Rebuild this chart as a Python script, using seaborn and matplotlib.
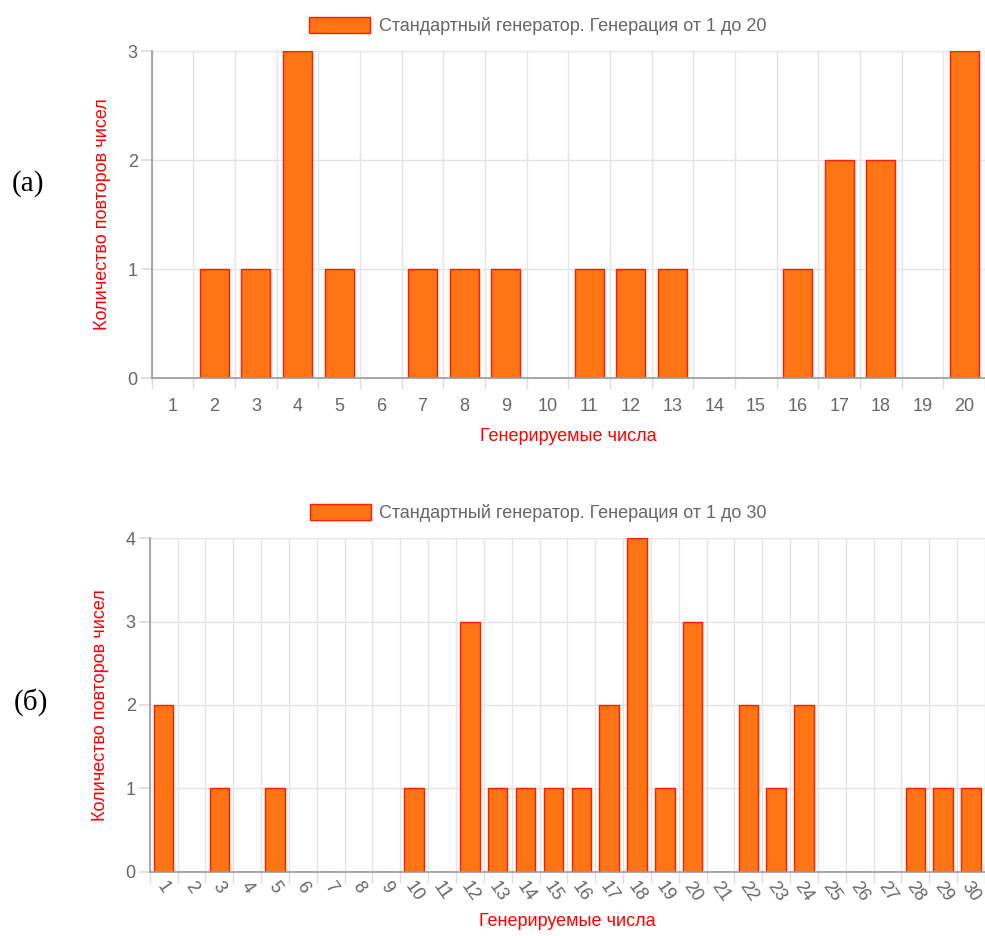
import matplotlib
matplotlib.use('Agg')
import matplotlib.pyplot as plt
import seaborn as sns
import pandas as pd

# Данные: частоты повторов сгенерированных чисел
numbers_20 = list(range(1, 21))
counts_20 = [0, 1, 1, 3, 1, 0, 1, 1, 1, 0, 1, 1, 1, 0, 0, 1, 2, 2, 0, 3]

numbers_30 = list(range(1, 31))
counts_30 = [2, 0, 1, 0, 1, 0, 0, 0, 0, 1, 0, 3, 1, 1, 1, 1, 2, 4, 1, 3,
             0, 2, 1, 2, 0, 0, 0, 1, 1, 1]

legend_20 = 'Стандартный генератор. Генерация от 1 до 20'
legend_30 = 'Стандартный генератор. Генерация от 1 до 30'
x_label = 'Генерируемые числа'
y_label = 'Количество повторов чисел'

FILL = '#ff7515'
EDGE = '#ff1a00'
TEXT = '#666666'
FS = 13

sns.set_theme(style='white')
plt.rcParams['font.family'] = ['Liberation Sans', 'DejaVu Sans']

fig = plt.figure(figsize=(9.85, 9.36), dpi=100)
ax1 = fig.add_axes([0.154, 0.596, 0.846, 0.3495])
ax2 = fig.add_axes([0.152, 0.0684, 0.848, 0.3568])


def draw(ax, numbers, counts, label, ymax, rotate, legend_x):
    df = pd.DataFrame({'num': numbers, 'cnt': counts})
    sns.barplot(data=df, x='num', y='cnt', ax=ax, color=FILL, width=0.7,
                edgecolor=EDGE, linewidth=1.0, saturation=1, label=label)
    n = len(numbers)
    ax.set_xlim(-0.5, n - 0.5)
    ax.set_ylim(0, ymax)
    ax.set_yticks(range(ymax + 1))
    ax.set_xticks([i - 0.5 for i in range(n + 1)], minor=True)
    ax.grid(True, which='minor', axis='x', color='#e5e5e5', linewidth=1)
    ax.grid(True, which='major', axis='y', color='#e5e5e5', linewidth=1)
    ax.set_axisbelow(True)
    for s in ['top', 'right']:
        ax.spines[s].set_visible(False)
    for s in ['left', 'bottom']:
        ax.spines[s].set_color('#9a9a9a')
        ax.spines[s].set_linewidth(1.2)
    ax.tick_params(axis='x', which='major', length=0, pad=14,
                   labelsize=FS, labelcolor=TEXT)
    ax.tick_params(axis='x', which='minor', length=8, color='#dddddd',
                   bottom=True)
    ax.tick_params(axis='y', length=8, color='#dddddd', left=True,
                   labelsize=FS, labelcolor=TEXT, pad=2)
    if rotate:
        ax.tick_params(axis='x', which='major', pad=5)
        for t in ax.get_xticklabels():
            t.set_rotation(-55)
            t.set_ha('center')
    ax.set_xlabel(x_label, color='red', fontsize=FS, labelpad=10 if not rotate else 6)
    ax.set_ylabel(y_label, color='red', fontsize=FS, labelpad=12)
    ax.legend(loc='lower center', bbox_to_anchor=(legend_x, 1.027), frameon=False,
              fontsize=FS, labelcolor=TEXT, handlelength=3.4, handleheight=1.0,
              handletextpad=0.45, borderaxespad=0)


draw(ax1, numbers_20, counts_20, legend_20, 3, False, 0.463)
draw(ax2, numbers_30, counts_30, legend_30, 4, True, 0.465)

fig.text(0.012, 0.804, '(а)', fontsize=21, family='Liberation Serif',
         color='black', va='center')
fig.text(0.014, 0.25, '(б)', fontsize=21, family='Liberation Serif',
         color='black', va='center')

fig.savefig('out.png', dpi=100)
